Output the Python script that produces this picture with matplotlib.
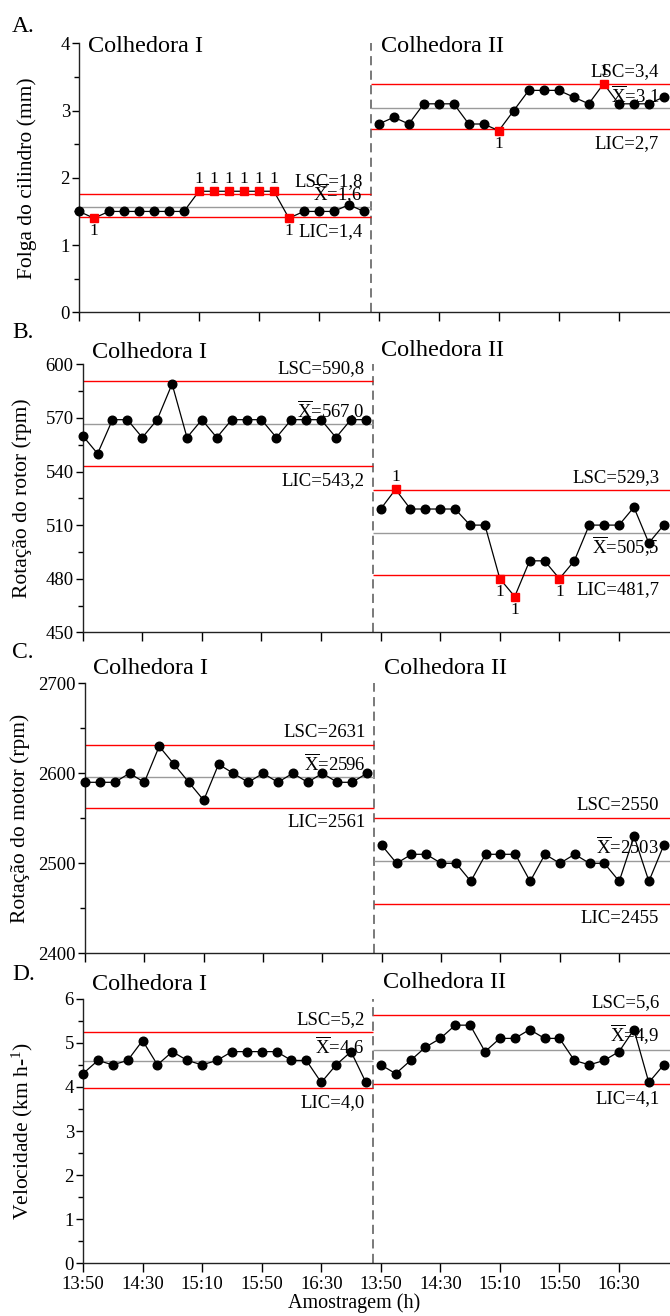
import matplotlib
matplotlib.use('Agg')
import matplotlib.pyplot as plt
from matplotlib.ticker import MultipleLocator, FixedLocator, NullFormatter

plt.rcParams['font.family'] = ['Liberation Serif', 'DejaVu Serif']
plt.rcParams['mathtext.fontset'] = 'custom'
plt.rcParams['mathtext.rm'] = 'Liberation Serif'
plt.rcParams['mathtext.it'] = 'Liberation Serif:italic'

# ---------------- data ----------------
time_labels = ['13:50', '14:30', '15:10', '15:50', '16:30']
machines = ['Colhedora I', 'Colhedora II']
panel_letters = ['A.', 'B.', 'C.', 'D.']
ylabels = ['Folga do cilindro (mm)', 'Rotação do rotor (rpm)',
           'Rotação do motor (rpm)', 'Velocidade (km h-$^{1}$)']
xlabel = 'Amostragem (h)'

folga_c1 = [1.5, 1.4, 1.5, 1.5, 1.5, 1.5, 1.5, 1.5, 1.8, 1.8, 1.8, 1.8, 1.8, 1.8, 1.4, 1.5, 1.5, 1.5, 1.6, 1.5]
folga_c2 = [2.8, 2.9, 2.8, 3.1, 3.1, 3.1, 2.8, 2.8, 2.7, 3.0, 3.3, 3.3, 3.3, 3.2, 3.1, 3.4, 3.1, 3.1, 3.1, 3.2]
folga_out_c1 = [1, 8, 9, 10, 11, 12, 13, 14]
folga_out_c2 = [8, 15]
folga_lim_c1 = [1.76, 1.57, 1.41]
folga_lim_c2 = [3.39, 3.04, 2.73]
folga_txt_c1 = ['LSC=1,8', '1,6', 'LIC=1,4']
folga_txt_c2 = ['LSC=3,4', '3,1', 'LIC=2,7']

rotor_c1 = [560, 550, 569, 569, 559, 569, 589, 559, 569, 559, 569, 569, 569, 559, 569, 569, 569, 559, 569, 569]
rotor_c2 = [519, 530, 519, 519, 519, 519, 510, 510, 480, 470, 490, 490, 480, 490, 510, 510, 510, 520, 500, 510]
rotor_out_c1 = []
rotor_out_c2 = [1, 8, 9, 12]
rotor_lim_c1 = [590.8, 566.8, 543.2]
rotor_lim_c2 = [529.5, 505.7, 482.0]
rotor_txt_c1 = ['LSC=590,8', '567,0', 'LIC=543,2']
rotor_txt_c2 = ['LSC=529,3', '505,5', 'LIC=481,7']

motor_c1 = [2590, 2590, 2590, 2600, 2590, 2630, 2610, 2590, 2570, 2610, 2600, 2590, 2600, 2590, 2600, 2590, 2600, 2590, 2590, 2600]
motor_c2 = [2520, 2500, 2510, 2510, 2500, 2500, 2480, 2510, 2510, 2510, 2480, 2510, 2500, 2510, 2500, 2500, 2480, 2530, 2480, 2520]
motor_out_c1 = []
motor_out_c2 = []
motor_lim_c1 = [2631, 2596, 2561]
motor_lim_c2 = [2550, 2503, 2455]
motor_txt_c1 = ['LSC=2631', '2596', 'LIC=2561']
motor_txt_c2 = ['LSC=2550', '2503', 'LIC=2455']

vel_c1 = [4.3, 4.6, 4.5, 4.6, 5.05, 4.5, 4.8, 4.6, 4.5, 4.6, 4.8, 4.8, 4.8, 4.8, 4.6, 4.6, 4.1, 4.5, 4.8, 4.1]
vel_c2 = [4.5, 4.3, 4.6, 4.9, 5.1, 5.4, 5.4, 4.8, 5.1, 5.1, 5.3, 5.1, 5.1, 4.6, 4.5, 4.6, 4.8, 5.3, 4.1, 4.5]
vel_out_c1 = []
vel_out_c2 = []
vel_lim_c1 = [5.24, 4.59, 3.97]
vel_lim_c2 = [5.63, 4.84, 4.06]
vel_txt_c1 = ['LSC=5,2', '4,6', 'LIC=4,0']
vel_txt_c2 = ['LSC=5,6', '4,9', 'LIC=4,1']

ylims = [(0, 4), (450, 600), (2400, 2700), (0, 6)]
ymajor = [1, 30, 100, 1]
yminor = [0.5, 15, 50, 0.5]

panels = [
    (folga_c1, folga_c2, folga_out_c1, folga_out_c2, folga_lim_c1, folga_lim_c2, folga_txt_c1, folga_txt_c2),
    (rotor_c1, rotor_c2, rotor_out_c1, rotor_out_c2, rotor_lim_c1, rotor_lim_c2, rotor_txt_c1, rotor_txt_c2),
    (motor_c1, motor_c2, motor_out_c1, motor_out_c2, motor_lim_c1, motor_lim_c2, motor_txt_c1, motor_txt_c2),
    (vel_c1, vel_c2, vel_out_c1, vel_out_c2, vel_lim_c1, vel_lim_c2, vel_txt_c1, vel_txt_c2),
]

# ---------------- layout (pixels) ----------------
W, H = 670, 1316
fig = plt.figure(figsize=(W / 100, H / 100), dpi=100)

def fx(x):
    return x / W

def fy(y):
    return 1 - y / H

axes_px = [(79, 43.3, 312.3), (82.7, 364.3, 632.3), (85, 683.3, 953.3), (83, 998.7, 1263.3)]
ylabel_x = [27, 22, 20, 22]
letter_y = [27, 333, 653, 975]
title_y = [(47, 47), (352, 350), (668, 668), (985, 983)]
title_x = [(88, 381), (92, 381), (93, 384), (92, 383)]
mean_off = [(9, 9), (9.5, 9), (9, 10), (10, 11)]
mean_off_c2_B = -10

XMAX = 39.4
SPLIT = 19.5
n1 = len(folga_c1)

for k, (ax_px, pdata) in enumerate(zip(axes_px, panels)):
    left, top, bottom = ax_px
    ax = fig.add_axes([fx(left), fy(bottom), 1 - fx(left) - 0.0005, (bottom - top) / H])
    c1, c2, out1, out2, lim1, lim2, txt1, txt2 = pdata
    ax.set_xlim(0, XMAX)
    ax.set_ylim(*ylims[k])
    for s in ['top', 'right']:
        ax.spines[s].set_visible(False)
    for s in ['left', 'bottom']:
        ax.spines[s].set_linewidth(1.0)
        ax.spines[s].set_color('#222222')

    # separator
    ax.axvline(SPLIT, color='#555555', lw=1.1, linestyle=(0, (6, 3.5)), zorder=1)

    for j, (vals, outs, lims, txts) in enumerate([(c1, out1, lim1, txt1), (c2, out2, lim2, txt2)]):
        off = 0 if j == 0 else n1
        xs = [off + i for i in range(len(vals))]
        x0, x1 = (0, SPLIT) if j == 0 else (SPLIT, XMAX)
        # control lines
        ax.hlines(lims[0], x0, x1, color='#ff0000', lw=1.0, zorder=2)
        ax.hlines(lims[1], x0, x1, color='#9a9a9a', lw=1.0, zorder=2)
        ax.hlines(lims[2], x0, x1, color='#ff0000', lw=1.0, zorder=2)
        # series
        ax.plot(xs, vals, color='black', lw=0.9, zorder=3)
        xin = [x for i, x in enumerate(xs) if i not in outs]
        yin = [v for i, v in enumerate(vals) if i not in outs]
        ax.plot(xin, yin, linestyle='none', marker='o', ms=6.2, color='black', zorder=4, clip_on=False)
        xo = [xs[i] for i in outs]
        yo = [vals[i] for i in outs]
        ax.plot(xo, yo, linestyle='none', marker='s', ms=5.6, color='#ff0000', zorder=5, clip_on=False)
        for i in outs:
            d = 9 if vals[i] > lims[1] else -9.5
            ax.annotate('1', (xs[i], vals[i]), xytext=(0, d), textcoords='offset points',
                        ha='center', va='center', fontsize=12.5, zorder=6)
        # limit labels
        xt = 18.9 if j == 0 else 38.7
        ax.annotate(txts[0], (xt, lims[0]), xytext=(0, 9), textcoords='offset points',
                    ha='right', va='center', fontsize=13.5, zorder=6)
        mo = mean_off[k][j]
        if k == 1 and j == 1:
            mo = mean_off_c2_B
        ax.annotate(r'$\overline{\mathrm{X}}$=' + txts[1], (xt, lims[1]), xytext=(0, mo),
                    textcoords='offset points', ha='right', va='center', fontsize=13.5, zorder=6)
        ax.annotate(txts[2], (xt, lims[2]), xytext=(0, -10.5), textcoords='offset points',
                    ha='right', va='center', fontsize=13.5, zorder=6)

    # ticks
    ticks = [0, 4, 8, 12, 16, 20, 24, 28, 32, 36]
    ax.xaxis.set_major_locator(FixedLocator(ticks))
    if k == 3:
        ax.set_xticklabels(time_labels + time_labels)
    else:
        ax.xaxis.set_major_formatter(NullFormatter())
    ax.yaxis.set_major_locator(MultipleLocator(ymajor[k]))
    ax.yaxis.set_minor_locator(MultipleLocator(yminor[k]))
    ax.tick_params(axis='x', which='major', direction='out', length=6.5, width=1.0, labelsize=13.5, pad=3)
    ax.tick_params(axis='y', which='major', direction='out', length=5, width=1.0, labelsize=13.5, pad=1.5)
    ax.tick_params(axis='y', which='minor', direction='out', length=3.5, width=1.0)

    # texts
    fig.text(fx(ylabel_x[k]), fy((top + bottom) / 2), ylabels[k], rotation=90,
             ha='center', va='center', fontsize=15.5)
    fig.text(fx(12), fy(letter_y[k]), panel_letters[k], ha='left', va='center', fontsize=17)
    fig.text(fx(title_x[k][0]), fy(title_y[k][0]), machines[0], ha='left', va='center', fontsize=17.5)
    fig.text(fx(title_x[k][1]), fy(title_y[k][1]), machines[1], ha='left', va='center', fontsize=17.5)

fig.text(fx(354), fy(1303), xlabel, ha='center', va='center', fontsize=14.5)

fig.savefig('out.png', dpi=100)
